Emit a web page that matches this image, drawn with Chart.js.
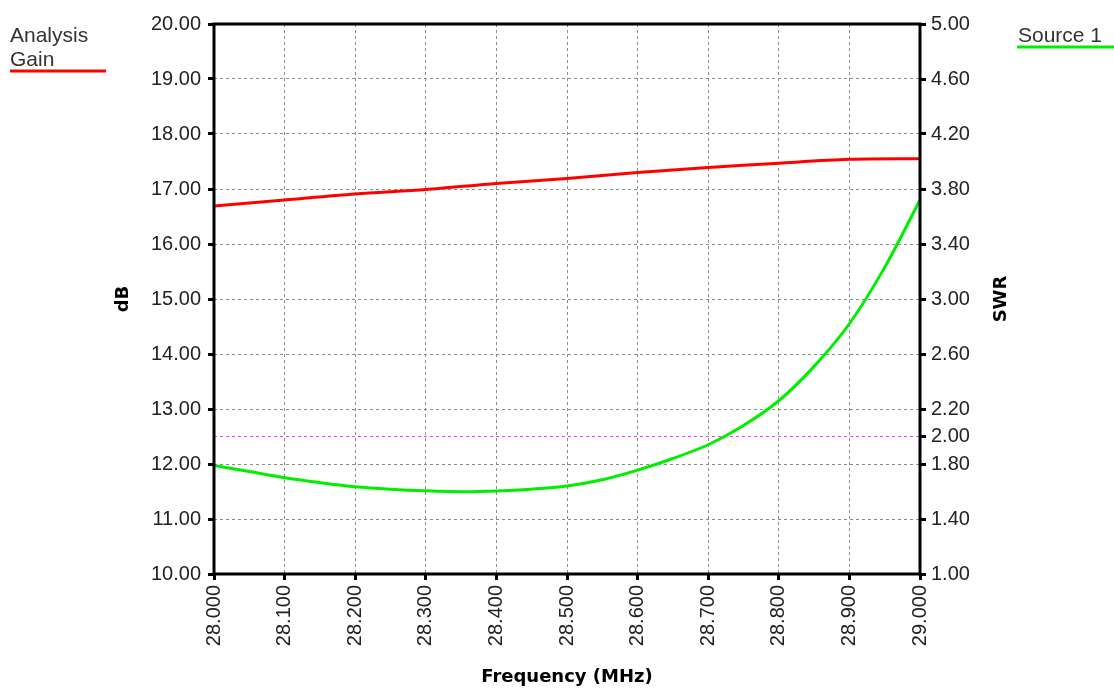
<!DOCTYPE html>
<html>
<head>
<meta charset="utf-8">
<script src="https://cdn.jsdelivr.net/npm/chart.js@4.4.1/dist/chart.umd.min.js"></script>
<style>
  html, body { margin: 0; padding: 0; background: #fff; }
  #wrap { width: 1114px; height: 688px; }
</style>
</head>
<body>
<div id="wrap"><canvas id="swrChart" width="1114" height="688"></canvas></div>
<script>
// values
const gainFreq = [28.0, 28.1, 28.2, 28.3, 28.4, 28.5, 28.6, 28.7, 28.8, 28.9, 29.0];
const gainDb = [16.69, 16.80, 16.91, 16.99, 17.10, 17.19, 17.30, 17.39, 17.47, 17.54, 17.55];

const swrFreq = [28.00, 28.05, 28.10, 28.15, 28.20, 28.25, 28.30, 28.35, 28.40, 28.45,
  28.50, 28.55, 28.60, 28.65, 28.70, 28.75, 28.80, 28.85, 28.90, 28.95, 29.00];
const swrValues = [1.79, 1.745, 1.70, 1.665, 1.635, 1.617, 1.605, 1.598, 1.603, 1.617,
  1.64, 1.685, 1.755, 1.84, 1.94, 2.08, 2.26, 2.51, 2.82, 3.23, 3.72];

const swrLimit = 2.0;
const freqRange = [28.0, 29.0];
const dbTicks = [10, 11, 12, 13, 14, 15, 16, 17, 18, 19, 20];
const swrTicks = [1.0, 1.4, 1.8, 2.0, 2.2, 2.6, 3.0, 3.4, 3.8, 4.2, 4.6, 5.0];
const freqTicks = [28.0, 28.1, 28.2, 28.3, 28.4, 28.5, 28.6, 28.7, 28.8, 28.9, 29.0];

const labelFont = { family: "Liberation Sans", size: 20 };
const gridColor = '#8c8c8c';

const toPoints = (xs, ys) => xs.map((x, i) => ({ x: x, y: ys[i] }));

// frame, axis titles and the two little legends
const decorations = {
  id: 'decorations',
  afterDatasetsDraw(chart) {
    const { ctx, chartArea: a } = chart;
    ctx.save();
    ctx.strokeStyle = '#000';
    ctx.lineWidth = 3;
    ctx.strokeRect(a.left, a.top, a.right - a.left, a.bottom - a.top);

    ctx.fillStyle = '#000';
    ctx.font = "bold 18px 'DejaVu Sans', sans-serif";
    ctx.textAlign = 'center';
    ctx.textBaseline = 'middle';
    ctx.fillText('Frequency (MHz)', (a.left + a.right) / 2, 677);

    const midY = (a.top + a.bottom) / 2;
    ctx.save();
    ctx.translate(123, midY);
    ctx.rotate(-Math.PI / 2);
    ctx.fillText('dB', 0, 0);
    ctx.restore();
    ctx.save();
    ctx.translate(1001, midY);
    ctx.rotate(-Math.PI / 2);
    ctx.fillText('SWR', 0, 0);
    ctx.restore();

    ctx.font = "21px 'Liberation Sans', Arial, sans-serif";
    ctx.fillStyle = '#333';
    ctx.textAlign = 'left';
    ctx.textBaseline = 'alphabetic';
    ctx.fillText('Analysis', 10, 42);
    ctx.fillText('Gain', 10, 66);
    ctx.fillText('Source 1', 1018, 42);

    ctx.lineWidth = 3;
    ctx.strokeStyle = '#ff0000';
    ctx.beginPath();
    ctx.moveTo(10, 71);
    ctx.lineTo(106, 71);
    ctx.stroke();
    ctx.strokeStyle = '#00ee00';
    ctx.beginPath();
    ctx.moveTo(1017, 47);
    ctx.lineTo(1114, 47);
    ctx.stroke();
    ctx.restore();
  }
};

new Chart(document.getElementById('swrChart'), {
  type: 'line',
  data: {
    datasets: [
      {
        label: 'Analysis Gain',
        data: toPoints(gainFreq, gainDb),
        yAxisID: 'y',
        borderColor: '#ff0000',
        borderWidth: 3,
        pointRadius: 0,
        tension: 0.3
      },
      {
        label: 'Source 1',
        data: toPoints(swrFreq, swrValues),
        yAxisID: 'y2',
        borderColor: '#00ee00',
        borderWidth: 3,
        pointRadius: 0,
        tension: 0.3
      },
      {
        label: 'SWR 2.0',
        data: toPoints(freqRange, [swrLimit, swrLimit]),
        yAxisID: 'y2',
        borderColor: '#ff33ff',
        borderWidth: 1,
        borderDash: [3, 3],
        pointRadius: 0
      }
    ]
  },
  options: {
    responsive: false,
    animation: false,
    devicePixelRatio: 1,
    layout: { padding: { top: 24, left: 0, right: 0, bottom: 0 } },
    plugins: {
      legend: { display: false },
      tooltip: { enabled: false }
    },
    scales: {
      x: {
        type: 'linear',
        min: freqRange[0],
        max: freqRange[1],
        afterFit: (s) => { s.height = 114; },
        afterBuildTicks: (s) => { s.ticks = freqTicks.map(v => ({ value: v })); },
        grid: { color: gridColor, lineWidth: 1, tickLength: 6, tickColor: '#000', tickWidth: 3 },
        border: { display: false, dash: [3, 3] },
        ticks: {
          font: labelFont,
          color: '#222',
          padding: 5,
          minRotation: 90,
          maxRotation: 90,
          autoSkip: false,
          callback: (v) => Number(v).toFixed(3)
        }
      },
      y: {
        position: 'left',
        min: 10,
        max: 20,
        afterFit: (s) => { s.width = 214; },
        afterBuildTicks: (s) => { s.ticks = dbTicks.map(v => ({ value: v })); },
        grid: { color: gridColor, lineWidth: 1, tickLength: 6, tickColor: '#000', tickWidth: 3 },
        border: { display: false, dash: [3, 3] },
        ticks: {
          font: labelFont,
          color: '#222',
          padding: 7,
          callback: (v) => Number(v).toFixed(2)
        }
      },
      y2: {
        position: 'right',
        min: 1,
        max: 5,
        afterFit: (s) => { s.width = 194; },
        afterBuildTicks: (s) => { s.ticks = swrTicks.map(v => ({ value: v })); },
        grid: { drawOnChartArea: false, tickLength: 6, tickColor: '#000', tickWidth: 3 },
        border: { display: false },
        ticks: {
          font: labelFont,
          color: '#222',
          padding: 5,
          callback: (v) => Number(v).toFixed(2)
        }
      }
    }
  },
  plugins: [decorations]
});
</script>
</body>
</html>
